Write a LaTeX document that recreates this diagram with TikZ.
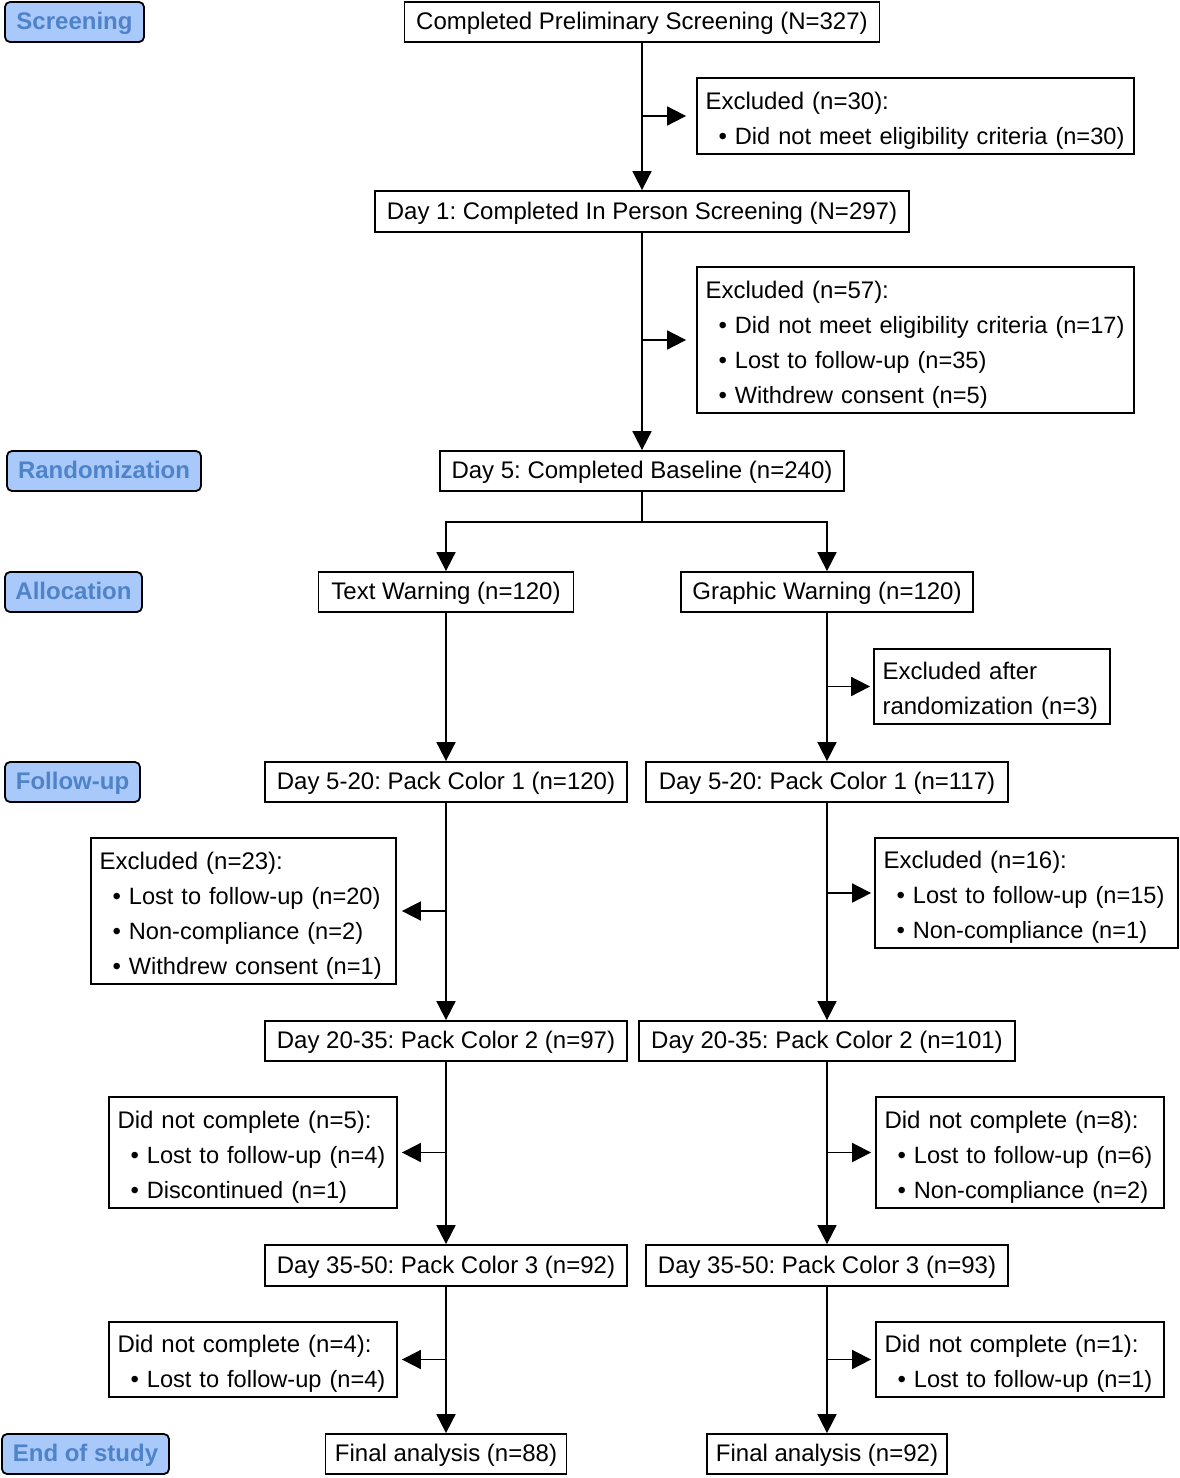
\documentclass[tikz,border=0pt]{standalone}
\usepackage{fontspec}
\setmainfont{Liberation Sans}
\usetikzlibrary{arrows.meta}
\frenchspacing
\definecolor{lblfill}{RGB}{170,201,251}
\definecolor{lbltext}{RGB}{79,131,200}
\tikzset{
  every node/.style={font=\fontsize{24}{35}\selectfont},
  box/.style={draw, line width=1.8pt, fill=white, inner xsep=8.5pt, inner ysep=0pt, minimum height=40pt, text height=17pt, text depth=2pt},
  sidebox/.style={draw, line width=1.8pt, fill=white, inner xsep=8.5pt, inner ysep=0pt, align=left},
  lbl/.style={draw, line width=1.8pt, fill=lblfill, text=lbltext, rounded corners=5pt, minimum height=40pt, inner sep=0pt, text height=17pt, text depth=2pt, font=\fontsize{24}{30}\selectfont\bfseries},
  conn/.style={line width=1.8pt},
  arr/.style={conn, -{Triangle[length=19pt,width=19pt]}}
}
\newcommand{\bul}[1]{\mbox{\hspace*{13pt}•\ {\fontsize{23.6}{35}\selectfont #1}}}
\newcommand{\topgap}{\rule{0pt}{26pt}}
\begin{document}
\begin{tikzpicture}[x=1pt,y=-1pt]
\useasboundingbox (0,0) rectangle (1180,1478);
% stage labels
\node[lbl, minimum width=139pt] (lscr) at (74.5,22) {Screening};
\node[lbl, minimum width=194pt] (lrand) at (104,471) {Randomization};
\node[lbl, minimum width=137pt] (lalloc) at (73.5,592) {Allocation};
\node[lbl, minimum width=135pt] (lfol) at (72.5,782) {Follow-up};
\node[lbl, minimum width=167pt] (lend) at (85.5,1454) {End of study};
% main boxes
\node[box, minimum width=475pt] (A) at (642,22) {Completed Preliminary Screening (N=327)};
\node[box, minimum width=534pt, minimum height=41pt] (B) at (642,211.5) {Day 1: Completed In Person Screening (N=297)};
\node[box, minimum width=404pt] (C) at (642,471) {Day 5: Completed Baseline (n=240)};
\node[box, minimum width=255pt] (D1) at (446,592) {Text Warning (n=120)};
\node[box, minimum width=292pt] (D2) at (827,592) {Graphic Warning (n=120)};
\node[box, minimum width=362pt] (E1) at (446,782) {Day 5-20: Pack Color 1 (n=120)};
\node[box, minimum width=362pt] (E2) at (827,782) {Day 5-20: Pack Color 1 (n=117)};
\node[box, minimum width=362pt] (F1) at (446,1041) {Day 20-35: Pack Color 2 (n=97)};
\node[box, minimum width=376pt] (F2) at (827,1041) {Day 20-35: Pack Color 2 (n=101)};
\node[box, minimum width=362pt, minimum height=41pt] (G1) at (446,1265.5) {Day 35-50: Pack Color 3 (n=92)};
\node[box, minimum width=362pt, minimum height=41pt] (G2) at (827,1265.5) {Day 35-50: Pack Color 3 (n=93)};
\node[box, minimum width=241pt] (H1) at (446,1454) {Final analysis (n=88)};
\node[box, minimum width=240pt] (H2) at (827,1454) {Final analysis (n=92)};
% side boxes
\node[sidebox, text width=420pt, minimum height=76pt] (X1) at (915.5,116) {\topgap Excluded (n=30):\\\bul{Did not meet eligibility criteria (n=30)}};
\node[sidebox, text width=420pt, minimum height=146pt] (X2) at (915.5,340) {\topgap Excluded (n=57):\\\bul{Did not meet eligibility criteria (n=17)}\\\bul{Lost to follow-up (n=35)}\\\bul{Withdrew consent (n=5)}};
\node[sidebox, text width=219pt, minimum height=75pt] (XR) at (992,686.5) {\topgap Excluded after\\\mbox{randomization (n=3)}};
\node[sidebox, text width=288pt, minimum height=146pt] (XL1) at (243.5,911) {\topgap Excluded (n=23):\\\bul{Lost to follow-up (n=20)}\\\bul{Non-compliance (n=2)}\\\bul{Withdrew consent (n=1)}};
\node[sidebox, text width=286pt, minimum height=110pt] (XR1) at (1026.5,893) {\topgap Excluded (n=16):\\\bul{Lost to follow-up (n=15)}\\\bul{Non-compliance (n=1)}};
\node[sidebox, text width=271pt, minimum height=111pt] (XL2) at (253,1152.5) {\topgap Did not complete (n=5):\\\bul{Lost to follow-up (n=4)}\\\bul{Discontinued (n=1)}};
\node[sidebox, text width=271pt, minimum height=111pt] (XR2) at (1020,1152.5) {\topgap Did not complete (n=8):\\\bul{Lost to follow-up (n=6)}\\\bul{Non-compliance (n=2)}};
\node[sidebox, text width=271pt, minimum height=75pt] (XL3) at (253,1359.5) {\topgap Did not complete (n=4):\\\bul{Lost to follow-up (n=4)}};
\node[sidebox, text width=271pt, minimum height=75pt] (XR3) at (1020,1359.5) {\topgap Did not complete (n=1):\\\bul{Lost to follow-up (n=1)}};
% vertical connectors
\draw[arr] (A) -- (B);
\draw[arr] (B) -- (C);
\coordinate (split) at (642,522);
\draw[conn] (C.south) -- (split);
\draw[arr] (split) -| (D1.north);
\draw[arr] (split) -| (D2.north);
\draw[arr] (D1) -- (E1);
\draw[arr] (D2) -- (E2);
\draw[arr] (E1) -- (F1);
\draw[arr] (E2) -- (F2);
\draw[arr] (F1) -- (G1);
\draw[arr] (F2) -- (G2);
\draw[arr] (G1) -- (H1);
\draw[arr] (G2) -- (H2);
% side arrows
\draw[arr, shorten >=10pt] (A.south |- X1.west) -- (X1.west);
\draw[arr, shorten >=10pt] (B.south |- X2.west) -- (X2.west);
\draw[arr, shorten >=3pt] (D2.south |- XR.west) -- (XR.west);
\draw[arr, shorten >=5pt] (E1.south |- XL1.east) -- (XL1.east);
\draw[arr, shorten >=3pt] (E2.south |- XR1.west) -- (XR1.west);
\draw[arr, shorten >=4pt] (F1.south |- XL2.east) -- (XL2.east);
\draw[arr, shorten >=4pt] (F2.south |- XR2.west) -- (XR2.west);
\draw[arr, shorten >=4pt] (G1.south |- XL3.east) -- (XL3.east);
\draw[arr, shorten >=4pt] (G2.south |- XR3.west) -- (XR3.west);
\end{tikzpicture}
\end{document}
